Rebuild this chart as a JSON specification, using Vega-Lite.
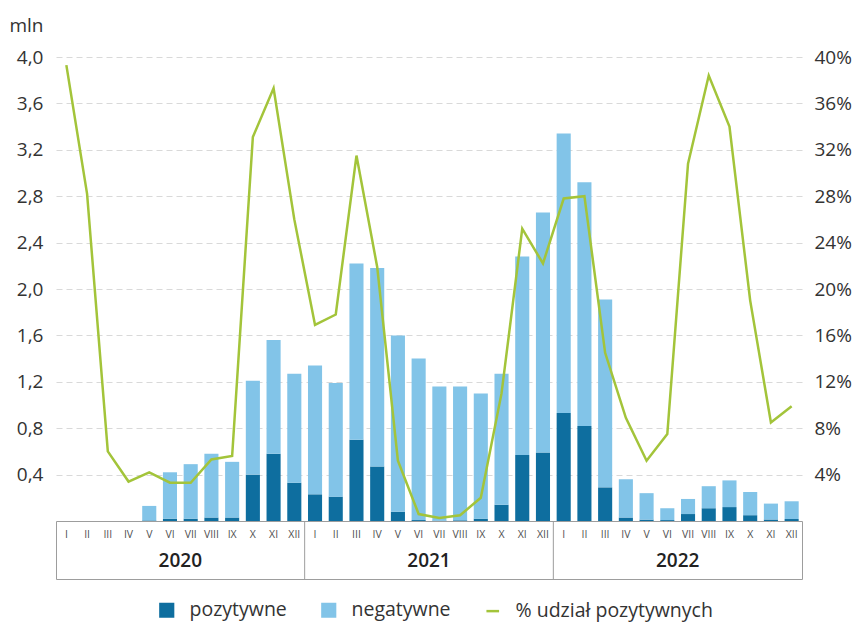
{
  "$schema": "https://vega.github.io/schema/vega-lite/v6.json",
  "padding": {"left": 8, "top": 16, "right": 0, "bottom": 0},
  "config": {
    "font": "Open Sans",
    "view": {"stroke": null},
    "axis": {"labelColor": "#333333", "labelFontSize": 19, "labelFont": "Open Sans"},
    "legend": {"labelFont": "Open Sans"}
  },
  "data": {
    "values": [
      {"m": "2020-I", "rok": "2020", "mies": "I", "pozytywne": 0, "negatywne": 0, "udzial": 39.3},
      {"m": "2020-II", "rok": "2020", "mies": "II", "pozytywne": 0, "negatywne": 0, "udzial": 28.2},
      {"m": "2020-III", "rok": "2020", "mies": "III", "pozytywne": 0, "negatywne": 0, "udzial": 6.0},
      {"m": "2020-IV", "rok": "2020", "mies": "IV", "pozytywne": 0, "negatywne": 0, "udzial": 3.4},
      {"m": "2020-V", "rok": "2020", "mies": "V", "pozytywne": 0.005, "negatywne": 0.125, "udzial": 4.2},
      {"m": "2020-VI", "rok": "2020", "mies": "VI", "pozytywne": 0.02, "negatywne": 0.40, "udzial": 3.3},
      {"m": "2020-VII", "rok": "2020", "mies": "VII", "pozytywne": 0.02, "negatywne": 0.47, "udzial": 3.3},
      {"m": "2020-VIII", "rok": "2020", "mies": "VIII", "pozytywne": 0.03, "negatywne": 0.55, "udzial": 5.3},
      {"m": "2020-IX", "rok": "2020", "mies": "IX", "pozytywne": 0.03, "negatywne": 0.48, "udzial": 5.6},
      {"m": "2020-X", "rok": "2020", "mies": "X", "pozytywne": 0.40, "negatywne": 0.81, "udzial": 33.1},
      {"m": "2020-XI", "rok": "2020", "mies": "XI", "pozytywne": 0.58, "negatywne": 0.98, "udzial": 37.3},
      {"m": "2020-XII", "rok": "2020", "mies": "XII", "pozytywne": 0.33, "negatywne": 0.94, "udzial": 26.0},
      {"m": "2021-I", "rok": "2021", "mies": "I", "pozytywne": 0.23, "negatywne": 1.11, "udzial": 16.9},
      {"m": "2021-II", "rok": "2021", "mies": "II", "pozytywne": 0.21, "negatywne": 0.98, "udzial": 17.8},
      {"m": "2021-III", "rok": "2021", "mies": "III", "pozytywne": 0.70, "negatywne": 1.52, "udzial": 31.5},
      {"m": "2021-IV", "rok": "2021", "mies": "IV", "pozytywne": 0.47, "negatywne": 1.71, "udzial": 21.9},
      {"m": "2021-V", "rok": "2021", "mies": "V", "pozytywne": 0.08, "negatywne": 1.52, "udzial": 5.2},
      {"m": "2021-VI", "rok": "2021", "mies": "VI", "pozytywne": 0.008, "negatywne": 1.392, "udzial": 0.6},
      {"m": "2021-VII", "rok": "2021", "mies": "VII", "pozytywne": 0.003, "negatywne": 1.157, "udzial": 0.25},
      {"m": "2021-VIII", "rok": "2021", "mies": "VIII", "pozytywne": 0.006, "negatywne": 1.154, "udzial": 0.5},
      {"m": "2021-IX", "rok": "2021", "mies": "IX", "pozytywne": 0.02, "negatywne": 1.08, "udzial": 2.0},
      {"m": "2021-X", "rok": "2021", "mies": "X", "pozytywne": 0.14, "negatywne": 1.13, "udzial": 11.0},
      {"m": "2021-XI", "rok": "2021", "mies": "XI", "pozytywne": 0.57, "negatywne": 1.71, "udzial": 25.2},
      {"m": "2021-XII", "rok": "2021", "mies": "XII", "pozytywne": 0.59, "negatywne": 2.07, "udzial": 22.2},
      {"m": "2022-I", "rok": "2022", "mies": "I", "pozytywne": 0.93, "negatywne": 2.41, "udzial": 27.8},
      {"m": "2022-II", "rok": "2022", "mies": "II", "pozytywne": 0.82, "negatywne": 2.10, "udzial": 28.0},
      {"m": "2022-III", "rok": "2022", "mies": "III", "pozytywne": 0.29, "negatywne": 1.62, "udzial": 14.5},
      {"m": "2022-IV", "rok": "2022", "mies": "IV", "pozytywne": 0.03, "negatywne": 0.33, "udzial": 8.9},
      {"m": "2022-V", "rok": "2022", "mies": "V", "pozytywne": 0.012, "negatywne": 0.228, "udzial": 5.2},
      {"m": "2022-VI", "rok": "2022", "mies": "VI", "pozytywne": 0.008, "negatywne": 0.102, "udzial": 7.5},
      {"m": "2022-VII", "rok": "2022", "mies": "VII", "pozytywne": 0.06, "negatywne": 0.13, "udzial": 30.8},
      {"m": "2022-VIII", "rok": "2022", "mies": "VIII", "pozytywne": 0.11, "negatywne": 0.19, "udzial": 38.4},
      {"m": "2022-IX", "rok": "2022", "mies": "IX", "pozytywne": 0.12, "negatywne": 0.23, "udzial": 34.0},
      {"m": "2022-X", "rok": "2022", "mies": "X", "pozytywne": 0.05, "negatywne": 0.20, "udzial": 19.0},
      {"m": "2022-XI", "rok": "2022", "mies": "XI", "pozytywne": 0.013, "negatywne": 0.137, "udzial": 8.5},
      {"m": "2022-XII", "rok": "2022", "mies": "XII", "pozytywne": 0.017, "negatywne": 0.153, "udzial": 9.9}
    ]
  },
  "spacing": 0,
  "bounds": "flush",
  "vconcat": [
    {
      "width": 746,
      "height": 464,
      "layer": [
        {
          "transform": [{"fold": ["pozytywne", "negatywne"], "as": ["seria", "wartosc"]}],
          "mark": {"type": "bar"},
          "encoding": {
            "x": {"field": "m", "type": "nominal", "sort": null, "scale": {"paddingInner": 0.32, "paddingOuter": 0.16}, "axis": null},
            "y": {
              "field": "wartosc", "type": "quantitative", "stack": "zero",
              "scale": {"domain": [0, 4], "nice": false},
              "axis": {
                "orient": "left",
                "values": [0.4, 0.8, 1.2, 1.6, 2.0, 2.4, 2.8, 3.2, 3.6, 4.0],
                "labelExpr": "replace(format(datum.value, '.1f'), '.', ',')",
                "grid": true, "gridDash": [6, 4], "gridColor": "#d9d9d9", "gridWidth": 1,
                "domain": false, "ticks": false, "labelPadding": 13,
                "title": "mln", "titleAngle": 0, "titleAlign": "right", "titleBaseline": "bottom",
                "titleX": -13, "titleY": -22, "titleFontSize": 19, "titleFontWeight": "normal", "titleColor": "#333333"
              }
            },
            "color": {
              "field": "seria", "type": "nominal",
              "scale": {"domain": ["pozytywne", "negatywne", "% udział pozytywnych"], "range": ["#0e6e9f", "#82c4e8", "#a3c43a"]},
              "legend": {
                "title": null, "orient": "none", "legendX": 101, "legendY": 543, "direction": "horizontal",
                "padding": 0, "labelLimit": 400,
                "labelFontSize": 19.5, "labelColor": "#333333", "labelOffset": 13,
                "columnPadding": 30, "symbolSize": 160,
                "encode": {
                  "symbols": {
                    "update": {
                      "shape": {"signal": "datum.label === '% udział pozytywnych' ? 'stroke' : 'square'"},
                      "fill": {"signal": "datum.label === '% udział pozytywnych' ? 'transparent' : scale('color', datum.value)"},
                      "stroke": {"signal": "datum.label === '% udział pozytywnych' ? scale('color', datum.value) : 'transparent'"},
                      "strokeWidth": {"value": 2.5},
                      "opacity": {"value": 1}
                    }
                  }
                }
              }
            },
            "order": {"field": "seria", "sort": "descending"}
          }
        },
        {
          "mark": {"type": "line", "strokeWidth": 2.5},
          "encoding": {
            "x": {"field": "m", "type": "nominal", "sort": null, "axis": null},
            "y": {
              "field": "udzial", "type": "quantitative",
              "scale": {"domain": [0, 40], "nice": false},
              "axis": {
                "orient": "right",
                "values": [4, 8, 12, 16, 20, 24, 28, 32, 36, 40],
                "labelExpr": "datum.value + '%'",
                "grid": false, "domain": false, "ticks": false, "labelPadding": 12, "title": null
              }
            },
            "color": {"datum": "% udział pozytywnych"}
          }
        }
      ],
      "resolve": {"scale": {"y": "independent"}}
    },
    {
      "width": 746,
      "height": 58,
      "view": {"stroke": "#9d9d9d", "strokeWidth": 1},
      "layer": [
        {
          "mark": {"type": "text", "fontSize": 10.5, "color": "#505050", "dy": -15},
          "encoding": {
            "x": {"field": "m", "type": "nominal", "sort": null, "scale": {"paddingInner": 0, "paddingOuter": 0}, "axis": null},
            "text": {"field": "mies"}
          }
        },
        {
          "transform": [{"filter": "datum.mies === 'I' && datum.rok !== '2020'"}],
          "mark": {"type": "rule", "color": "#9d9d9d", "strokeWidth": 1},
          "encoding": {
            "x": {"field": "m", "type": "nominal", "sort": null, "bandPosition": 0, "axis": null}
          }
        },
        {
          "transform": [{"filter": "datum.mies === 'VI'"}],
          "mark": {"type": "text", "fontSize": 19, "fontWeight": 600, "color": "#222222", "dy": 11},
          "encoding": {
            "x": {"field": "m", "type": "nominal", "sort": null, "bandPosition": 1, "axis": null},
            "text": {"field": "rok"}
          }
        }
      ]
    }
  ],
  "resolve": {"scale": {"x": "independent", "color": "shared"}, "legend": {"color": "shared"}}
}
